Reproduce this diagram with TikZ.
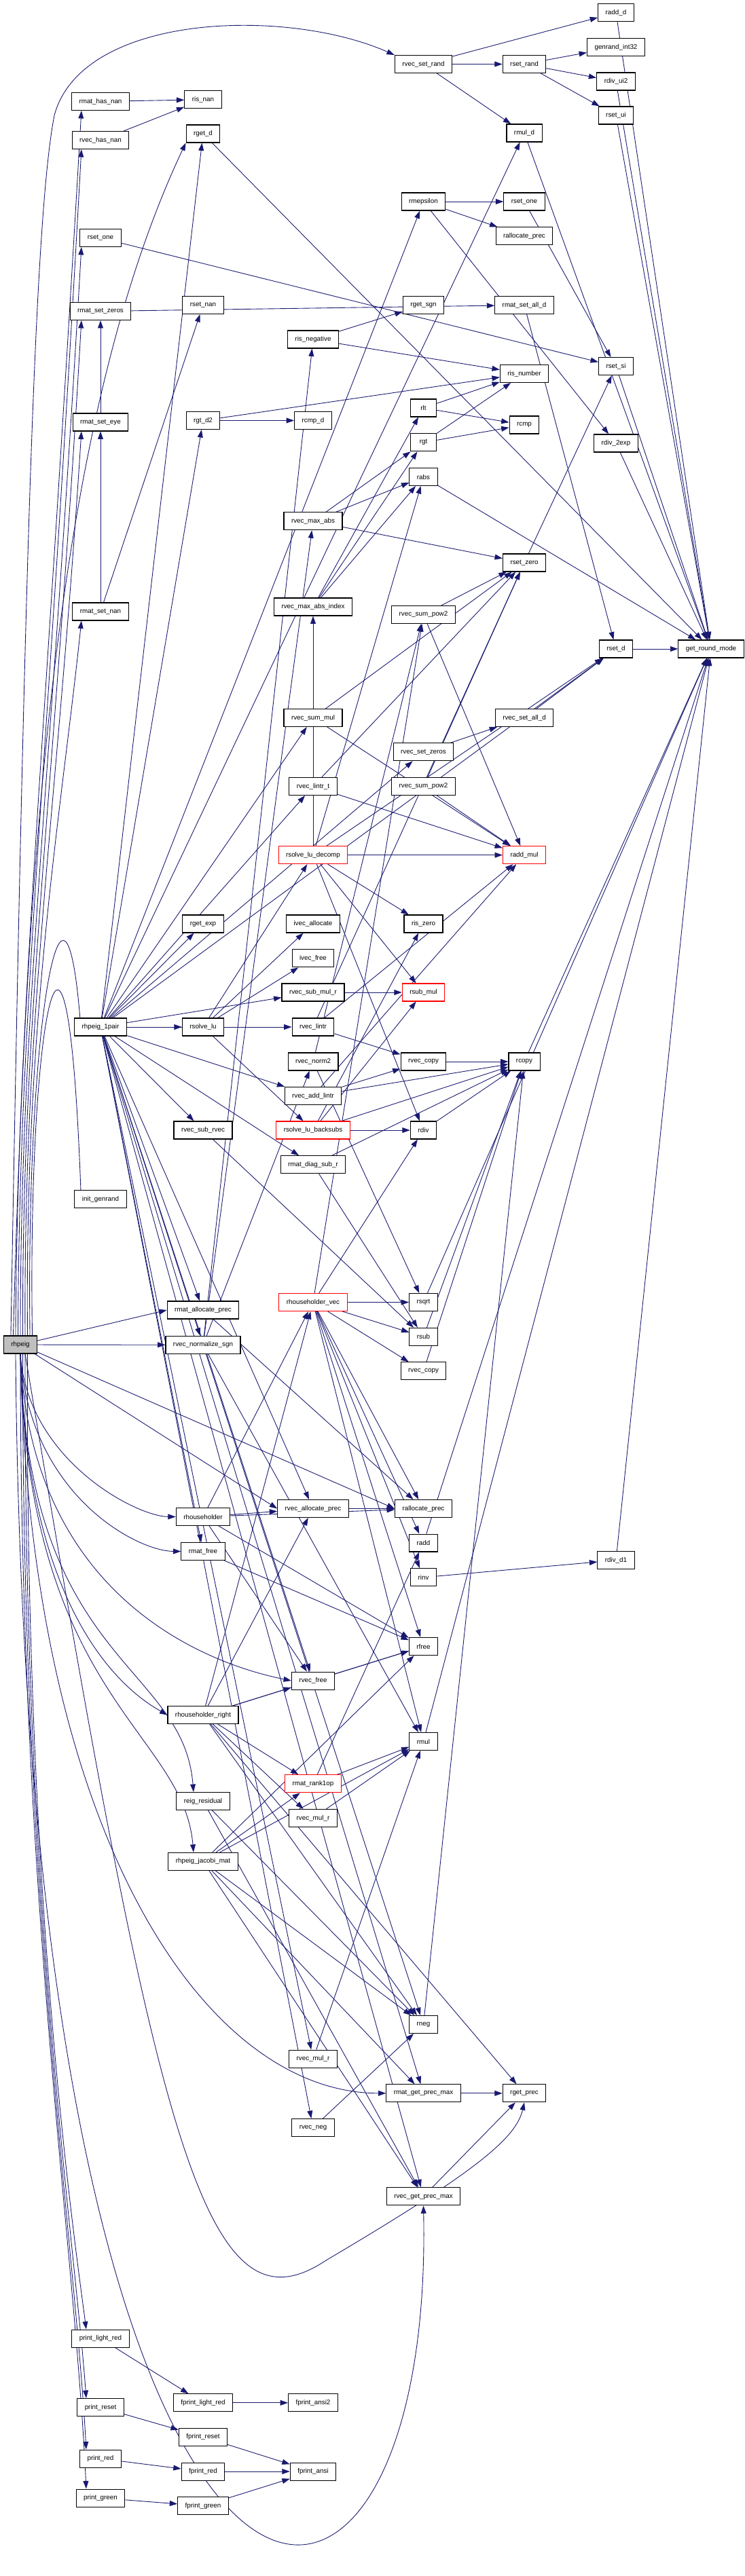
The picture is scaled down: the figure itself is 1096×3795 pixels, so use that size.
\documentclass[tikz,border=0pt]{standalone}
\usepackage{fontspec}
\setsansfont{Liberation Sans}
\usepackage{tikz}
\usetikzlibrary{arrows.meta, backgrounds}
\definecolor{callblue}{HTML}{191970}
\definecolor{rootgray}{HTML}{BFBFBF}

\tikzset{
  fn/.style={draw=black, line width=0.6pt, fill=white, minimum height=0.52cm,
             minimum width=0.77cm, inner xsep=0.22cm, inner ysep=0pt,
             font=\sffamily\fontsize{5.6}{6.5}\selectfont},
  fnred/.style={fn, draw=red},
  fnroot/.style={fn, fill=rootgray},
  call/.style={draw=callblue, line width=0.5pt, -{Triangle[length=6.5pt,width=4.5pt]}},
}

\begin{document}
\begin{tikzpicture}[x=0.02cm, y=-0.02cm]
\useasboundingbox (0,0) rectangle (1096,3795);

% caller
\node[fnroot] (rhpeig) at (30,1981) {rhpeig};

% rank 1
\node[fn] (rmathasnan)    at (148,149.5)  {rmat\_has\_nan};
\node[fn] (rvechasnan)    at (148,206.5)  {rvec\_has\_nan};
\node[fn] (rsetoneL)      at (148,350.5)  {rset\_one};
\node[fn] (rmatsetzeros)  at (148,458.5)  {rmat\_set\_zeros};
\node[fn] (rmatseteye)    at (148,622)    {rmat\_set\_eye};
\node[fn] (rmatsetnan)    at (148,901)    {rmat\_set\_nan};
\node[fn] (rhpeigpair)    at (148,1513)   {rhpeig\_1pair};
\node[fn] (initgenrand)   at (148,1766.5) {init\_genrand};
\node[fn] (printlightred) at (148,3445)   {print\_light\_red};
\node[fn] (printreset)    at (148,3546.5) {print\_reset};
\node[fn] (printred)      at (148,3622)   {print\_red};
\node[fn] (printgreen)    at (148,3680)   {print\_green};

% rank 2
\node[fn] (risnan)           at (299,146.7)  {ris\_nan};
\node[fn] (rgetd)            at (299,197)    {rget\_d};
\node[fn] (rsetnan)          at (299,449.5)  {rset\_nan};
\node[fn] (rgtdtwo)          at (299,619.5)  {rgt\_d2};
\node[fn] (rgetexp)          at (299,1361)   {rget\_exp};
\node[fn] (rsolvelu)         at (299,1513)   {rsolve\_lu};
\node[fn] (rvecsubrvec)      at (299,1665)   {rvec\_sub\_rvec};
\node[fn] (rmatallocprec)    at (299,1930)   {rmat\_allocate\_prec};
\node[fn] (rvecnormsgn)      at (299,1981.3) {rvec\_normalize\_sgn};
\node[fn] (rhouseholder)     at (299,2234.5) {rhouseholder};
\node[fn] (rmatfree)         at (299,2285.5) {rmat\_free};
\node[fn] (rhouseholderright) at (299,2526.5) {rhouseholder\_right};
\node[fn] (reigresidual)     at (299,2653.5) {reig\_residual};
\node[fn] (rhpeigjacobi)     at (299,2742.3) {rhpeig\_jacobi\_mat};
\node[fn] (fprintlightred)   at (299,3539.8) {fprint\_light\_red};
\node[fn] (fprintreset)      at (299,3590)   {fprint\_reset};
\node[fn] (fprintred)        at (299,3641)   {fprint\_red};
\node[fn] (fprintgreen)      at (299,3691.7) {fprint\_green};

% rank 3
\node[fn]    (risnegative)      at (461,500)    {ris\_negative};
\node[fn]    (rcmpd)            at (461,619.5)  {rcmp\_d};
\node[fn]    (rvecmaxabs)       at (461,767.8)  {rvec\_max\_abs};
\node[fn]    (rvecmaxabsindex)  at (461,894)    {rvec\_max\_abs\_index};
\node[fn]    (rvecsummul)       at (461,1057.5) {rvec\_sum\_mul};
\node[fn]    (rveclintrt)       at (461,1158.5) {rvec\_lintr\_t};
\node[fnred] (rsolveludecomp)   at (461,1259.7) {rsolve\_lu\_decomp};
\node[fn]    (ivecallocate)     at (461,1361)   {ivec\_allocate};
\node[fn]    (ivecfree)         at (461,1411.8) {ivec\_free};
\node[fn]    (rvecsubmulr)      at (461,1462)   {rvec\_sub\_mul\_r};
\node[fn]    (rveclintr)        at (461,1513)   {rvec\_lintr};
\node[fn]    (rvecnormtwo)      at (461,1564)   {rvec\_norm2};
\node[fn]    (rvecaddlintr)     at (461,1614.5) {rvec\_add\_lintr};
\node[fnred] (rsolvelubacksubs) at (461,1665)   {rsolve\_lu\_backsubs};
\node[fn]    (rmatdiagsubr)     at (461,1715.8) {rmat\_diag\_sub\_r};
\node[fnred] (rhouseholdervec)  at (461,1918.5) {rhouseholder\_vec};
\node[fn]    (rvecallocprec)    at (461,2222.5) {rvec\_allocate\_prec};
\node[fn]    (rvecfree)         at (461,2476)   {rvec\_free};
\node[fnred] (rmatrankone)      at (461,2627.8) {rmat\_rank1op};
\node[fn]    (rvecmulrA)        at (461,2678.5) {rvec\_mul\_r};
\node[fn]    (rvecmulrB)        at (461,3033)   {rvec\_mul\_r};
\node[fn]    (rvecneg)          at (461,3134.5) {rvec\_neg};
\node[fn]    (fprintansitwo)    at (461,3539.8) {fprint\_ansi2};
\node[fn]    (fprintansi)       at (461,3641)   {fprint\_ansi};

% rank 4
\node[fn]    (rvecsetrand)    at (623.5,94.5)   {rvec\_set\_rand};
\node[fn]    (rmepsilon)      at (623.5,297)    {rmepsilon};
\node[fn]    (rgetsgn)        at (623.5,449.5)  {rget\_sgn};
\node[fn]    (rlt)            at (623.5,601)    {rlt};
\node[fn]    (rgt)            at (623.5,651.8)  {rgt};
\node[fn]    (rabs)           at (623.5,702.5)  {rabs};
\node[fn]    (rvecsumpowA)    at (623.5,905.5)  {rvec\_sum\_pow2};
\node[fn]    (rvecsetzeros)   at (623.5,1107.8) {rvec\_set\_zeros};
\node[fn]    (rvecsumpowB)    at (623.5,1158.5) {rvec\_sum\_pow2};
\node[fn]    (riszero)        at (623.5,1361)   {ris\_zero};
\node[fnred] (rsubmul)        at (623.5,1462)   {rsub\_mul};
\node[fn]    (rveccopyA)      at (623.5,1564)   {rvec\_copy};
\node[fn]    (rdiv)           at (623.5,1665)   {rdiv};
\node[fn]    (rsqrt)          at (623.5,1918.5) {rsqrt};
\node[fn]    (rsub)           at (623.5,1969.3) {rsub};
\node[fn]    (rveccopyB)      at (623.5,2019.8) {rvec\_copy};
\node[fn]    (rallocprecB)    at (623.5,2222.5) {rallocate\_prec};
\node[fn]    (radd)           at (623.5,2273)   {radd};
\node[fn]    (rinv)           at (623.5,2323.8) {rinv};
\node[fn]    (rfree)          at (623.5,2425.5) {rfree};
\node[fn]    (rmul)           at (623.5,2565.5) {rmul};
\node[fn]    (rneg)           at (623.5,2982.5) {rneg};
\node[fn]    (rmatgetprecmax) at (623.5,3083.8) {rmat\_get\_prec\_max};
\node[fn]    (rvecgetprecmax) at (623.5,3235.8) {rvec\_get\_prec\_max};

% rank 5
\node[fn]    (rsetrand)    at (772,94.5)   {rset\_rand};
\node[fn]    (rmuld)       at (772,196)    {rmul\_d};
\node[fn]    (rsetoneR)    at (772,297)    {rset\_one};
\node[fn]    (rallocprecA) at (772,347.8)  {rallocate\_prec};
\node[fn]    (rmatsetalld) at (772,449.5)  {rmat\_set\_all\_d};
\node[fn]    (risnumber)   at (772,550.5)  {ris\_number};
\node[fn]    (rcmp)        at (772,626)    {rcmp};
\node[fn]    (rsetzero)    at (772,829)    {rset\_zero};
\node[fn]    (rvecsetalld) at (772,1057.5) {rvec\_set\_all\_d};
\node[fnred] (raddmul)     at (772,1259.7) {radd\_mul};
\node[fn]    (rcopy)       at (772,1564)   {rcopy};
\node[fn]    (rgetprec)    at (772,3083.8) {rget\_prec};

% rank 6 and 7
\node[fn] (raddd)        at (907,18.7)  {radd\_d};
\node[fn] (genrand)      at (907,69.5)  {genrand\_int32};
\node[fn] (rdivui)       at (907,120)   {rdiv\_ui2};
\node[fn] (rsetui)       at (907,170)   {rset\_ui};
\node[fn] (rsetsi)       at (907,539.8) {rset\_si};
\node[fn] (rdivtwoexp)   at (907,653)   {rdiv\_2exp};
\node[fn] (rsetd)        at (907,956)   {rset\_d};
\node[fn] (rdivdone)     at (907,2298.5) {rdiv\_d1};
\node[fn] (getroundmode) at (1047,956)  {get\_round\_mode};

\begin{pgfonlayer}{background}
\fill[white] (0,0) rectangle (1096,3795);

% calls of rhpeig
\foreach \t/\dx/\lane in {rmathasnan/-4/60, rvechasnan/-2/66, rsetoneL/0/72, rmatsetzeros/2/78,
                          rmatseteye/4/84, rmatsetnan/6/90, rhpeigpair/8/96, initgenrand/10/100}
  \draw[call] ([xshift=\dx pt]rhpeig.north) .. controls ({30+\dx},1500) and (\lane,1200)
    .. ([xshift=-16pt]\t.south);
\draw[call] ([xshift=-6pt]rhpeig.north) .. controls (40,1200) and (90,600) .. (rgetd.south west);
\draw[call] ([xshift=-8pt]rhpeig.north) .. controls (38,700) and (55,300) .. (80,170)
  .. controls (120,20) and (420,10) .. (rvecsetrand.north west);
\draw[call] (rhpeig) -- (rmatallocprec.west);
\draw[call] (rhpeig) -- (rvecnormsgn);
\draw[call] (rhpeig) -- (rvecallocprec.west);
\draw[call] (rhpeig) -- (rallocprecB.west);
\draw[call] (rhpeig.south) .. controls (40,2150) and (200,2234) .. (rhouseholder.west);
\draw[call] (rhpeig.south) .. controls (42,2200) and (200,2285) .. (rmatfree.west);
\draw[call] (rhpeig.south) .. controls (45,2350) and (300,2450) .. (rvecfree.west);
\draw[call] (rhpeig.south) .. controls (40,2400) and (200,2500) .. (rhouseholderright.west);
\draw[call] (rhpeig.south) .. controls (40,2450) and (270,2450) .. ([xshift=-8pt]reigresidual.north);
\draw[call] (rhpeig.south) .. controls (40,2500) and (270,2550) .. ([xshift=-8pt]rhpeigjacobi.north);
\draw[call] (rhpeig.south) .. controls (45,2700) and (300,3083) .. (rmatgetprecmax.west);
\foreach \t/\dx in {printlightred/6, printreset/4, printred/2, printgreen/0}
  \draw[call] ([xshift=\dx pt]rhpeig.south) .. controls ({30+\dx},2800) and (110,3300)
    .. ([xshift=-12pt]\t.north);
\draw[call] ([xshift=4pt]rhpeig.south) .. controls (230,3150) and (300,3450)
  .. (480,3330) .. controls (700,3200) and (760,3150) .. (rgetprec.south);
\draw[call] ([xshift=-4pt]rhpeig.south) .. controls (40,4050) and (640,4050) .. (rvecgetprecmax.south);

% calls of rhpeig_1pair
\foreach \t in {rgetexp, rsolvelu, rvecsubrvec, rvecsummul, rveclintrt, rvecsetzeros,
                rvecsubmulr, rveclintr, rvecaddlintr, rmatdiagsubr, rvecnormsgn,
                rmatallocprec, rvecallocprec, rmatfree, rvecfree, rvecmulrB, rvecneg,
                rmatgetprecmax, rvecgetprecmax, rgtdtwo, rgetd, rmepsilon, rmuld, rsetd}
  \draw[call] (rhpeigpair) -- (\t);

% top of the graph
\foreach \s/\t in {rvecsetrand/rsetrand, rvecsetrand/raddd, rvecsetrand/rmuld,
                   rsetrand/genrand, rsetrand/rdivui, rsetrand/rsetui,
                   raddd/getroundmode, rdivui/getroundmode, rsetui/getroundmode,
                   rmuld/getroundmode, rmathasnan/risnan, rvechasnan/risnan,
                   rmepsilon/rsetoneR, rmepsilon/rallocprecA, rmepsilon/rdivtwoexp,
                   rsetoneR/rsetsi, rsetoneL/rsetsi, rsetzero/rsetsi,
                   rsetsi/getroundmode, rdivtwoexp/getroundmode, rgetd/getroundmode,
                   rmatsetzeros/rmatsetalld, rmatseteye/rmatsetzeros,
                   rmatsetnan/rmatseteye, rmatsetnan/rsetnan,
                   risnegative/rgetsgn, risnegative/risnumber, rgtdtwo/risnumber,
                   rgtdtwo/rcmpd, rlt/risnumber, rlt/rcmp, rgt/risnumber, rgt/rcmp,
                   rabs/getroundmode, rvecmaxabs/rgt, rvecmaxabs/rabs,
                   rvecmaxabs/rsetzero, rvecmaxabsindex/rgt, rvecmaxabsindex/rabs,
                   rvecmaxabsindex/rlt, rvecsumpowA/rsetzero, rvecsumpowA/raddmul,
                   rmatsetalld/rsetd, rvecsetalld/rsetd, rsetd/getroundmode,
                   rvecsummul/rsetzero, rvecsummul/raddmul, rvecsetzeros/rvecsetalld,
                   rveclintrt/rsetzero, rveclintrt/raddmul,
                   rvecsumpowB/rsetzero, rvecsumpowB/raddmul}
  \draw[call] (\s) -- (\t);

% middle of the graph
\foreach \s/\t in {rsolvelu/rsolveludecomp, rsolvelu/ivecallocate, rsolvelu/ivecfree,
                   rsolvelu/rsolvelubacksubs, rsolveludecomp/riszero,
                   rsolveludecomp/rsubmul, rsolveludecomp/rabs,
                   rsolveludecomp/rvecmaxabsindex, rsolveludecomp/raddmul,
                   rsolveludecomp/rdiv, rsolveludecomp/rsetd, rvecsubmulr/rsubmul,
                   rveclintr/raddmul, rveclintr/rveccopyA, rveclintr/rsetzero,
                   rvecnormtwo/rvecsumpowA, rvecnormtwo/rsqrt, rveccopyA/rcopy,
                   rcopy/getroundmode, rvecaddlintr/rveccopyA, rvecaddlintr/raddmul,
                   rvecaddlintr/rcopy, rsolvelubacksubs/rdiv, rsolvelubacksubs/riszero,
                   rsolvelubacksubs/rsubmul, rsolvelubacksubs/rcopy,
                   rmatdiagsubr/rcopy, rmatdiagsubr/rsub, rvecsubrvec/rsub,
                   rhouseholdervec/rsqrt, rhouseholdervec/rsub, rhouseholdervec/rveccopyB,
                   rhouseholdervec/rdiv, rhouseholdervec/rmul, rhouseholdervec/radd,
                   rhouseholdervec/rallocprecB, rhouseholdervec/rfree,
                   rhouseholdervec/rinv, rhouseholdervec/rvecsumpowA,
                   rveccopyB/rcopy, rsub/rcopy, rsqrt/getroundmode, rdiv/rcopy,
                   rvecnormsgn/risnegative, rvecnormsgn/rvecmaxabs,
                   rvecnormsgn/rvecnormtwo, rvecnormsgn/rmul, rvecnormsgn/rneg}
  \draw[call] (\s) -- (\t);

% lower part of the graph
\foreach \s/\t in {rmatallocprec/rallocprecB, rvecallocprec/rallocprecB,
                   rhouseholder/rvecallocprec, rhouseholder/rallocprecB,
                   rhouseholder/rhouseholdervec, rhouseholder/rfree, rhouseholder/rvecfree,
                   radd/getroundmode, rmatfree/rfree, rinv/rdivdone,
                   rdivdone/getroundmode, rvecfree/rfree,
                   rhouseholderright/rhouseholdervec, rhouseholderright/rmatrankone,
                   rhouseholderright/rvecmulrA, rhouseholderright/rvecallocprec,
                   rhouseholderright/rfree, rhouseholderright/rvecfree,
                   rhouseholderright/rneg, rhouseholderright/rgetprec,
                   rmatrankone/rmul, rmatrankone/radd, rvecmulrA/rmul,
                   rmul/getroundmode, reigresidual/rvecgetprecmax, reigresidual/rneg,
                   rhpeigjacobi/rmatrankone, rhpeigjacobi/rmul, rhpeigjacobi/rneg,
                   rhpeigjacobi/rmatgetprecmax, rhpeigjacobi/rvecgetprecmax,
                   rhpeigjacobi/rfree, rvecmulrB/rmul, rvecneg/rneg, rneg/rcopy,
                   rmatgetprecmax/rgetprec, rvecgetprecmax/rgetprec}
  \draw[call] (\s) -- (\t);

% colour printing
\foreach \s/\t in {printlightred/fprintlightred, fprintlightred/fprintansitwo,
                   printreset/fprintreset, fprintreset/fprintansi,
                   printred/fprintred, fprintred/fprintansi,
                   printgreen/fprintgreen, fprintgreen/fprintansi}
  \draw[call] (\s) -- (\t);
\end{pgfonlayer}
\end{tikzpicture}
\end{document}
